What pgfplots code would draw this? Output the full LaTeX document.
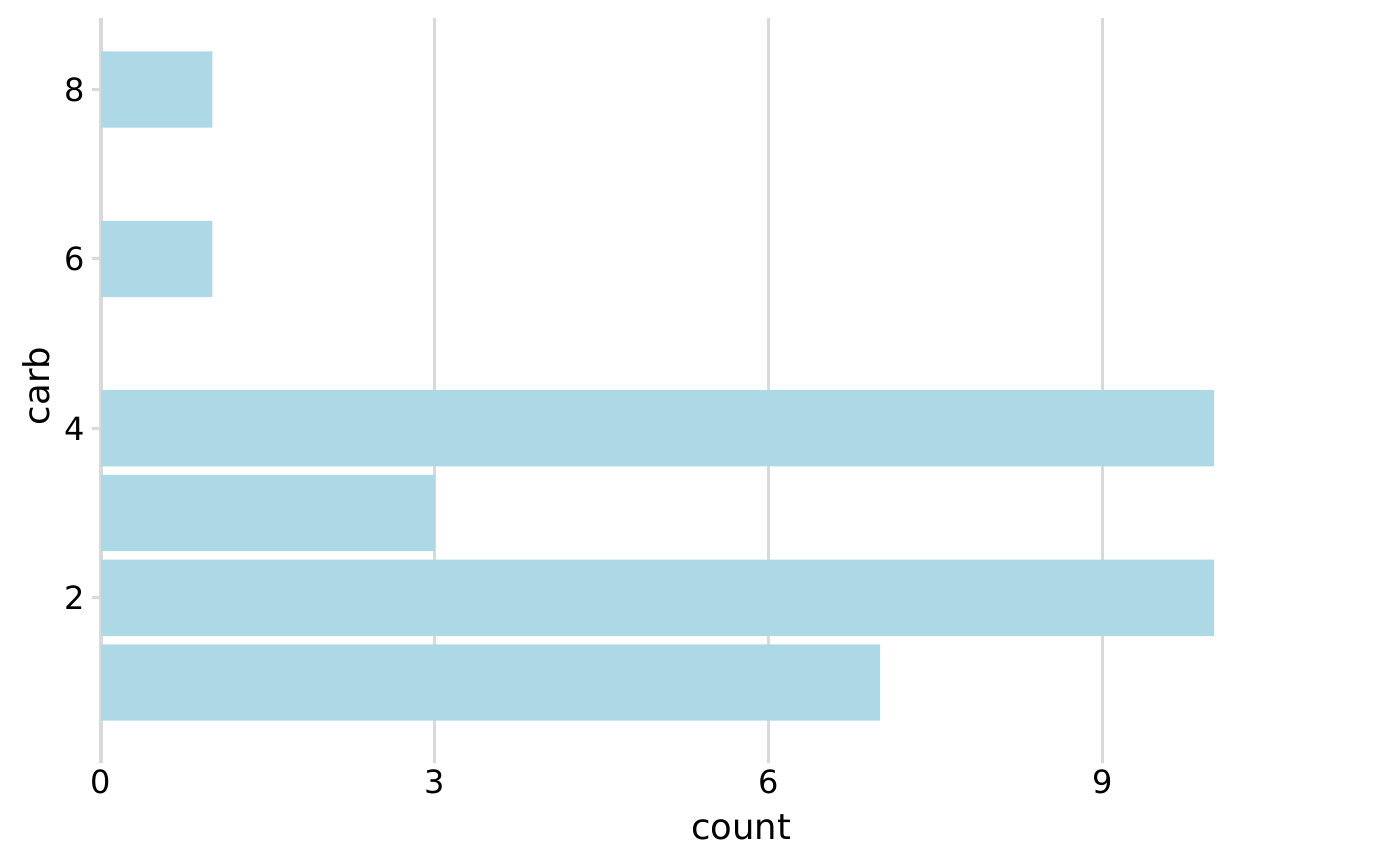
\documentclass[border=0pt]{standalone}
\usepackage{pgfplots}
\pgfplotsset{compat=1.18}
\usepackage{fontspec}
\setmainfont{DejaVu Sans}
\definecolor{barblue}{HTML}{ADD8E6}
\definecolor{gridgrey}{HTML}{D9D9D9}
\begin{document}
\begin{tikzpicture}
\path[use as bounding box] (-50.5pt,-56pt) rectangle (649.5pt,377pt);
\begin{axis}[
  at={(0,0)}, anchor=south west,
  scale only axis,
  width=640pt, height=368pt,
  xmin=0, xmax=11.5,
  ymin=0.155, ymax=8.845,
  xtick={0,3,6,9}, ytick={2,4,6,8},
  xtick pos=bottom, ytick pos=left,
  tick align=outside,
  major tick length=4.5pt,
  every tick/.style={gridgrey, line width=1.5pt},
  axis line style={draw=none},
  xmajorgrids,
  major grid style={gridgrey, line width=1.5pt},
  /pgf/number format/assume math mode=true,
  tick label style={font=\fontsize{16}{19}\selectfont, text=black},
  xlabel={count}, ylabel={carb},
  label style={font=\fontsize{17.7}{21}\selectfont, text=black},
  xlabel style={at={(axis description cs:0.5,-0.1155)}, anchor=base},
  ylabel style={at={(axis description cs:-0.0406,0.5)}, anchor=base, rotate=0},
]
\addplot[xbar, fill=barblue, draw=none, bar width=0.9] coordinates {
  (7,1) (10,2) (3,3) (10,4) (1,6) (1,8)
};
\end{axis}
\end{tikzpicture}
\end{document}
